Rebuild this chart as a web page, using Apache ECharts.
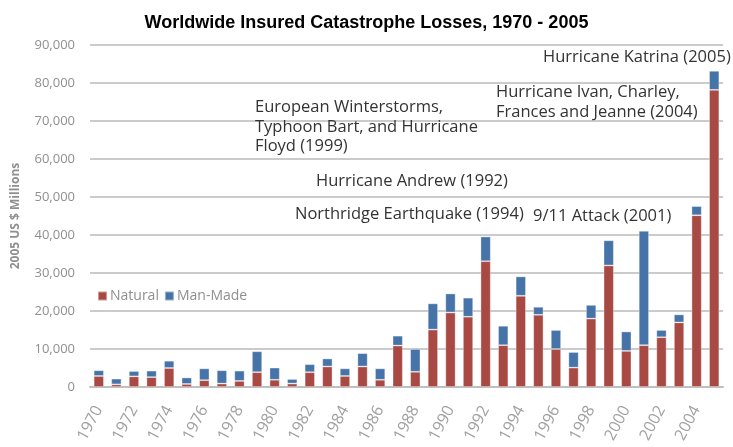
<!DOCTYPE html>
<html>
<head>
<meta charset="utf-8">
<script src="https://cdn.jsdelivr.net/npm/echarts@6/dist/echarts.min.js"></script>
<style>html,body{margin:0;padding:0;background:#fff}#c{width:733px;height:447px}</style>
</head>
<body>
<div id="c"></div>
<script>
var years = ['1970','1971','1972','1973','1974','1975','1976','1977','1978','1979',
  '1980','1981','1982','1983','1984','1985','1986','1987','1988','1989',
  '1990','1991','1992','1993','1994','1995','1996','1997','1998','1999',
  '2000','2001','2002','2003','2004','2005'];
var natural = [2.9,0.7,2.8,2.6,5.0,0.8,1.8,0.9,1.6,3.9,
  1.9,0.9,3.9,5.4,2.9,5.4,1.9,10.9,4.0,15.1,
  19.6,18.5,33.1,11.0,24.0,19.0,10.0,5.1,18.0,32.0,
  9.5,11.0,13.1,17.0,45.2,78.2].map(function(v){return Math.round(v*1000);});
var manMade = [1.5,1.5,1.4,1.7,1.9,1.7,3.1,3.5,2.7,5.5,
  3.2,1.2,2.1,2.1,2.0,3.5,3.0,2.6,6.0,6.9,
  5.0,5.0,6.5,5.1,5.1,2.1,5.0,4.1,3.6,6.6,
  5.1,30.1,1.9,2.1,2.4,5.0].map(function(v){return Math.round(v*1000);});
var yTicks = [0,10000,20000,30000,40000,50000,60000,70000,80000,90000];
var annotations = [
  {text:'Hurricane Katrina (2005)', x:543, y:48},
  {text:'Hurricane Ivan, Charley,\nFrances and Jeanne (2004)', x:496, y:83},
  {text:'European Winterstorms,\nTyphoon Bart, and Hurricane\nFloyd (1999)', x:255, y:98},
  {text:'Hurricane Andrew (1992)', x:316, y:172},
  {text:'Northridge Earthquake (1994)', x:295, y:205},
  {text:'9/11 Attack (2001)', x:533, y:207}
];

var chart = echarts.init(document.getElementById('c'), null, {renderer:'canvas'});
var labelColor = '#8f8f8f';
var font = "'Open Sans', 'Noto Sans', sans-serif";
chart.setOption({
  animation:false,
  backgroundColor:'#fff',
  title:{
    text:'Worldwide Insured Catastrophe Losses, 1970 - 2005',
    left:'center', top:9,
    textStyle:{fontFamily:"'Liberation Sans', Arial, sans-serif", fontWeight:'bold', fontSize:18, color:'#000'}
  },
  legend:{
    left:92, top:284, itemWidth:9, itemHeight:9, itemGap:5,
    icon:'rect',
    textStyle:{fontFamily:font, fontSize:14, color:labelColor, padding:[0,0,0,-2]},
    data:['Natural','Man-Made']
  },
  grid:{left:90, right:10, top:45, bottom:60, containLabel:false},
  xAxis:{
    type:'category', data:years,
    axisLine:{show:true, lineStyle:{color:'#bfbfbf', width:2}},
    axisTick:{show:false},
    axisLabel:{interval:1, rotate:62, margin:20, fontFamily:font, fontSize:16, color:'#a0a0a0'}
  },
  yAxis:{
    type:'value', min:0, max:90000, interval:10000,
    name:'2005 US $ Millions', nameLocation:'middle', nameGap:68, nameRotate:90,
    nameTextStyle:{fontFamily:font, fontWeight:'bold', fontSize:12, color:labelColor},
    axisLine:{show:false}, axisTick:{show:false},
    splitLine:{lineStyle:{color:'#bababa', width:1.5}},
    axisLabel:{margin:15, fontFamily:font, fontSize:13, color:labelColor,
      formatter:function(v){return v.toLocaleString('en-US');}}
  },
  series:[
    {name:'Natural', type:'bar', stack:'t', data:natural, barWidth:'58%',
     itemStyle:{color:'#a84a43', borderColor:'rgba(255,255,255,0.45)', borderWidth:0.8}},
    {name:'Man-Made', type:'bar', stack:'t', data:manMade, barWidth:'58%',
     itemStyle:{color:'#4673a8', borderColor:'rgba(255,255,255,0.45)', borderWidth:0.8}}
  ],
  graphic: annotations.map(function(a){
    return {type:'text', left:a.x, top:a.y, z:100,
      style:{text:a.text, fontFamily:font, fontSize:16.5, lineHeight:19.5, fill:'#333'}};
  })
});
</script>
</body>
</html>
